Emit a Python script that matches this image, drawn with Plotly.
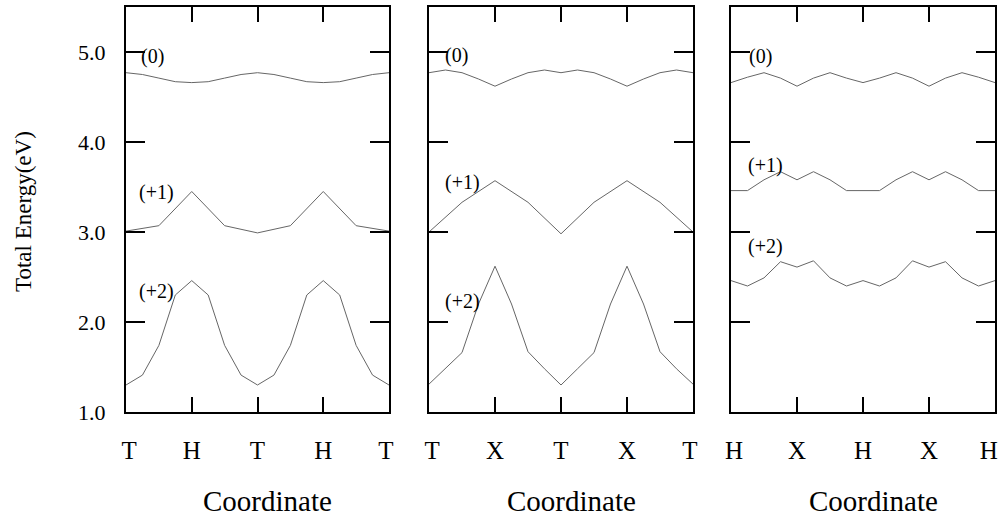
import plotly.graph_objects as go

# ---- data ----
x_q = [0, 0.25, 0.5, 0.75, 1, 1.25, 1.5, 1.75, 2, 2.25, 2.5, 2.75, 3, 3.25, 3.5, 3.75, 4]
x_h = [0, 0.5, 1, 1.5, 2, 2.5, 3, 3.5, 4]

p1_tick_labels = ["T", "H", "T", "H", "T"]
p2_tick_labels = ["T", "X", "T", "X", "T"]
p3_tick_labels = ["H", "X", "H", "X", "H"]

p1_q0 = [4.77, 4.75, 4.71, 4.67, 4.66, 4.67, 4.71, 4.75, 4.77, 4.75, 4.71, 4.67, 4.66, 4.67, 4.71, 4.75, 4.77]
p1_q1 = [3.01, 3.07, 3.45, 3.07, 2.99, 3.07, 3.45, 3.07, 3.01]
p1_q2 = [1.30, 1.41, 1.74, 2.30, 2.46, 2.30, 1.74, 1.41, 1.30, 1.41, 1.74, 2.30, 2.46, 2.30, 1.74, 1.41, 1.30]

p2_q0 = [4.77, 4.80, 4.77, 4.70, 4.62, 4.70, 4.77, 4.80, 4.77, 4.80, 4.77, 4.70, 4.62, 4.70, 4.77, 4.80, 4.77]
p2_q1 = [3.00, 3.33, 3.57, 3.33, 2.98, 3.33, 3.57, 3.33, 3.00]
p2_q2 = [1.31, 1.48, 1.66, 2.20, 2.62, 2.20, 1.67, 1.48, 1.30, 1.48, 1.66, 2.20, 2.62, 2.20, 1.67, 1.48, 1.31]

p3_q0 = [4.66, 4.72, 4.77, 4.71, 4.62, 4.71, 4.77, 4.71, 4.66, 4.71, 4.77, 4.71, 4.62, 4.71, 4.77, 4.72, 4.66]
p3_q1 = [3.46, 3.46, 3.58, 3.67, 3.58, 3.67, 3.58, 3.46, 3.46, 3.46, 3.58, 3.67, 3.58, 3.67, 3.58, 3.46, 3.46]
p3_q2 = [2.46, 2.40, 2.49, 2.67, 2.61, 2.68, 2.49, 2.40, 2.46, 2.40, 2.49, 2.68, 2.61, 2.67, 2.49, 2.40, 2.46]

charge_labels = ["(0)", "(+1)", "(+2)"]
# label anchor positions (x, energy) per panel
label_pos = [
    [(0.4, 4.95), (0.47, 3.44), (0.47, 2.34)],
    [(0.42, 4.96), (0.5, 3.55), (0.5, 2.23)],
    [(0.44, 4.95), (0.52, 3.74), (0.52, 2.84)],
]

panels = [
    ([(x_q, p1_q0), (x_h, p1_q1), (x_q, p1_q2)], p1_tick_labels),
    ([(x_q, p2_q0), (x_h, p2_q1), (x_q, p2_q2)], p2_tick_labels),
    ([(x_q, p3_q0), (x_q, p3_q1), (x_q, p3_q2)], p3_tick_labels),
]

x_domains = [[0.126, 0.389], [0.429, 0.693], [0.731, 0.995]]
y_domain = [108 / 520, 513 / 520]

FONT = "Liberation Serif, Times New Roman, serif"
LINE = "#666666"
NB = "&nbsp;"

fig = go.Figure()
annotations = []
for i, (series, ticks) in enumerate(panels):
    xa = "x" if i == 0 else f"x{i+1}"
    ya = "y" if i == 0 else f"y{i+1}"
    for xs, ys in series:
        fig.add_trace(go.Scatter(x=xs, y=ys, mode="lines", xaxis=xa, yaxis=ya,
                                 line=dict(color=LINE, width=1), showlegend=False,
                                 hoverinfo="skip"))
    for lab, (lx, ly) in zip(charge_labels, label_pos[i]):
        annotations.append(dict(x=lx, y=ly, xref=xa, yref=ya, text=lab, showarrow=False,
                                xanchor="center", yanchor="middle",
                                font=dict(family=FONT, size=20, color="black")))
    # nudge end labels slightly inward (as in the reference)
    shown = list(ticks)
    shown[0] = NB + shown[0]
    shown[-1] = shown[-1] + (NB * 2 if i == 2 else NB)
    xkey = "xaxis" if i == 0 else f"xaxis{i+1}"
    ykey = "yaxis" if i == 0 else f"yaxis{i+1}"
    fig.update_layout(**{
        xkey: dict(domain=x_domains[i], anchor=ya, range=[0, 4], automargin=False,
                   tickvals=[0, 1, 2, 3, 4], ticktext=shown, ticklabeloverflow="allow",
                   ticks="inside", ticklen=15, tickwidth=2, tickcolor="black",
                   showline=True, linecolor="black", linewidth=2, mirror="allticks",
                   showgrid=False, zeroline=False, ticklabelstandoff=15,
                   tickfont=dict(family=FONT, size=25, color="black")),
        ykey: dict(domain=y_domain, anchor=xa, range=[1.0, 5.5], automargin=False,
                   tickvals=[1, 2, 3, 4, 5],
                   ticktext=["1.0", "2.0", "3.0", "4.0", "5.0"] if i == 0 else ["", "", "", "", ""],
                   ticks="inside", ticklen=19, tickwidth=2, tickcolor="black",
                   showline=True, linecolor="black", linewidth=2, mirror="allticks",
                   showgrid=False, zeroline=False, ticklabelstandoff=14,
                   tickfont=dict(family=FONT, size=22, color="black")),
    })
    cx = (x_domains[i][0] + x_domains[i][1]) / 2 + 10 / 1000
    annotations.append(dict(x=cx, y=(520 - 501) / 520, xref="paper", yref="paper",
                            text="Coordinate", showarrow=False, xanchor="center",
                            yanchor="middle", font=dict(family=FONT, size=29, color="black")))

annotations.append(dict(x=23 / 1000, y=(520 - 212) / 520, xref="paper", yref="paper",
                        text="Total Energy(eV)", showarrow=False, textangle=-90,
                        xanchor="center", yanchor="middle",
                        font=dict(family=FONT, size=23, color="black")))

fig.update_layout(width=1000, height=520, margin=dict(l=0, r=0, t=0, b=0),
                  paper_bgcolor="white", plot_bgcolor="white",
                  annotations=annotations, showlegend=False)

fig.write_html("out.html", config={"displayModeBar": False},
               post_script="document.body.style.margin='0px';document.body.style.overflow='hidden';")
